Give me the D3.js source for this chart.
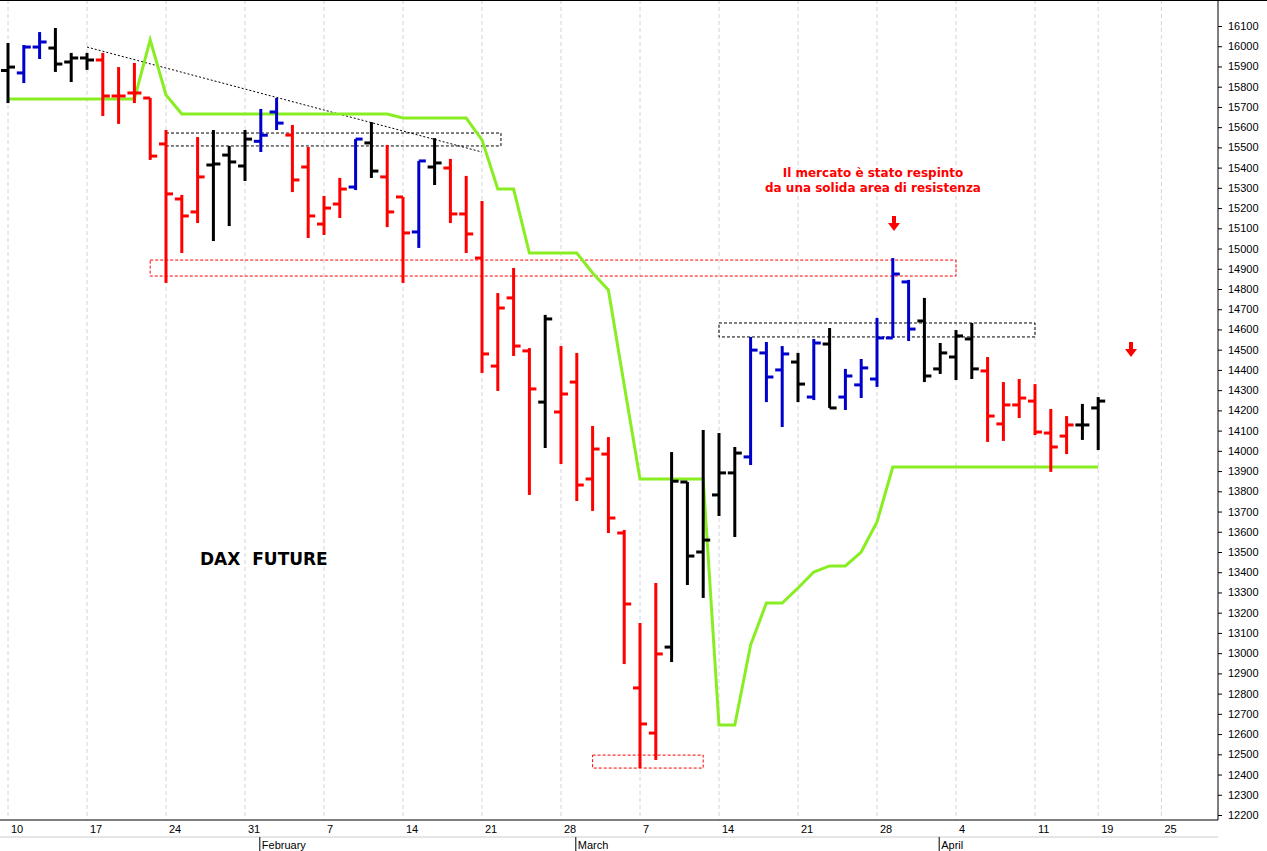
<!DOCTYPE html>
<html><head><meta charset="utf-8">
<script src="https://cdn.jsdelivr.net/npm/d3@7"></script>
<style>body{margin:0;background:#fff}svg{font-family:Arial,"Liberation Sans",sans-serif}</style>
</head><body><svg id="c" width="1267" height="851"></svg>
<script>
const opens =[15880,15868,15996,15991,15922,15942,15932,15754,15769,15744,15517,15245,15181,15413,15462,15408,15530,15675,15561,15403,15121,15220,15304,15522,15354,15255,15082,15403,15398,15171,14953,14419,14756,14494,14241,14192,14340,13861,13984,13594,12828,12605,13030,13846,13500,13782,13891,13970,14484,14400,14439,14266,14528,14266,14326,14355,14558,14835,14642,14405,14464,14553,14395,14133,14227,14246,14088,14073,14128,14212];
const highs =[16016,16006,16070,16090,15967,15967,15967,15897,15917,15744,15586,15265,15551,15586,15507,15586,15690,15744,15611,15502,15260,15349,15541,15625,15512,15255,15433,15546,15443,15359,15235,14780,14904,14508,14672,14518,14484,14123,14068,13609,13149,13347,13994,13846,14103,14088,14019,14563,14538,14518,14484,14553,14607,14405,14454,14657,14953,14845,14756,14533,14597,14632,14464,14340,14355,14330,14207,14172,14232,14266];
const lows  =[15719,15818,15937,15873,15823,15883,15655,15616,15719,15438,14830,14978,15126,15037,15111,15334,15477,15586,15279,15052,15067,15151,15289,15349,15106,14830,15003,15314,15126,14978,14385,14296,14469,13782,14014,13935,13752,13703,13594,12946,12432,12472,12956,13337,13273,13678,13574,13930,14241,14118,14241,14251,14212,14202,14261,14316,14558,14543,14340,14380,14350,14355,14044,14049,14162,14078,13896,13984,14054,14004];
const closes=[15897,15996,16021,15912,15942,15932,15754,15754,15769,15457,15270,15161,15354,15418,15428,15541,15560,15620,15339,15161,15200,15294,15541,15383,15181,15077,15433,15423,15171,15072,14479,14706,14518,14306,14652,14281,13831,14009,13668,13243,12650,12996,13850,13480,13559,13891,13989,14498,14365,14479,14330,14533,14212,14370,14410,14558,14874,14602,14370,14484,14568,14405,14172,14227,14261,14093,14019,14128,14128,14246];
const colors="kbbkkkrrrrrrrkkkbbrrrrbkrrbkrrrrrrkrrrrrrrkkkkkbbbkbkbbbbbkkkkrrrrrrkk";
const greenLine=[15739,15739,15739,15739,15739,15739,15739,15739,15739,16031,15759,15665,15665,15665,15665,15665,15665,15665,15665,15665,15665,15665,15665,15665,15665,15645,15645,15645,15645,15645,15537,15294,15294,14978,14978,14978,14978,14879,14795,14325,13861,13861,13861,13861,13861,12645,12645,13040,13248,13248,13322,13401,13431,13431,13500,13648,13920,13920,13920,13920,13920,13920,13920,13920,13920,13920,13920,13920,13920,13920];
const weekIdx=[0,5,10,15,20,25,30,35,40,45,50,55,60,65,69,73];
const weekLabels=["10","17","24","31","7","14","21","28","7","14","21","28","4","11","19","25"];
const monthIdx=[16,36,59];
const monthLabels=["February","March","April"];
const yTicks=d3.range(12200,16101,100);

const svg=d3.select("#c");
const x=d3.scaleLinear().domain([0,73]).range([8,8+73*15.8]);
const y=d3.scaleLinear().domain([12200,16100]).range([815,26]);
const right=1218,bottom=820;
const col={k:"#000",b:"#0000cc",r:"#ff0000"};

svg.append("g").selectAll("line").data(weekIdx).join("line")
 .attr("x1",d=>x(d)).attr("x2",d=>x(d)).attr("y1",0).attr("y2",bottom)
 .attr("stroke","#d4d4dc").attr("stroke-dasharray","4,3");
svg.append("line").attr("x1",right).attr("x2",right).attr("y1",0).attr("y2",bottom).attr("stroke","#000");
svg.append("line").attr("x1",0).attr("x2",right).attr("y1",bottom).attr("y2",bottom).attr("stroke","#000");
svg.append("line").attr("x1",0).attr("x2",1267).attr("y1",0.5).attr("y2",0.5).attr("stroke","#000");
const ya=svg.append("g").attr("transform",`translate(${right},0)`).call(d3.axisRight(y).tickValues(yTicks).tickSize(4).tickFormat(d3.format("d")));
ya.select(".domain").remove();
ya.selectAll("text").attr("font-size",11).attr("font-family","Arial").attr("x",10);
svg.append("g").selectAll("text").data(weekIdx).join("text")
 .attr("x",d=>x(d)+3).attr("y",bottom+13).attr("font-size",11).text((d,i)=>weekLabels[i]);
svg.append("line").attr("x1",0).attr("x2",right).attr("y1",bottom+17).attr("y2",bottom+17).attr("stroke","#ccc");
svg.append("g").selectAll("line").data(monthIdx).join("line")
 .attr("x1",d=>x(d)-1).attr("x2",d=>x(d)-1).attr("y1",bottom+17).attr("y2",851).attr("stroke","#000");
svg.append("g").selectAll("text").data(monthIdx).join("text")
 .attr("x",d=>x(d)+1).attr("y",bottom+29).attr("font-size",11).text((d,i)=>monthLabels[i]);

function box(i0,i1,p0,p1,c){svg.append("rect").attr("x",x(i0)).attr("y",y(p0)).attr("width",x(i1)-x(i0)).attr("height",y(p1)-y(p0))
 .attr("fill","none").attr("stroke",c).attr("stroke-dasharray","3,2");}
box(10,31.2,15571,15507,"#000");
box(9,60,14943,14864,"#ff0000");
box(37,44,12496,12432,"#ff0000");
box(45,65,14632,14563,"#000");
svg.append("line").attr("x1",x(5)).attr("y1",y(15996)).attr("x2",x(30)).attr("y2",y(15477)).attr("stroke","#000").attr("stroke-dasharray","2,2");

svg.append("path").datum(greenLine).attr("fill","none").attr("stroke","#88ee22").attr("stroke-width",3)
 .attr("d",d3.line().x((d,i)=>x(i)).y(d=>y(d)));

const g=svg.append("g").attr("stroke-width",3);
opens.forEach((o,i)=>{
 const c=col[colors[i]], cx=x(i);
 g.append("line").attr("x1",cx).attr("x2",cx).attr("y1",y(highs[i])).attr("y2",y(lows[i])).attr("stroke",c);
 g.append("line").attr("x1",cx-7).attr("x2",cx).attr("y1",y(o)).attr("y2",y(o)).attr("stroke",c);
 g.append("line").attr("x1",cx).attr("x2",cx+7).attr("y1",y(closes[i])).attr("y2",y(closes[i])).attr("stroke",c);
});

const ann=svg.append("g").attr("font-family","DejaVu Sans").attr("font-weight","bold").attr("font-size",12).attr("fill","#ff0000").attr("text-anchor","middle");
ann.append("text").attr("x",873).attr("y",177).text("Il mercato è stato respinto");
ann.append("text").attr("x",873).attr("y",192).text("da una solida area di resistenza");
svg.append("text").attr("x",200).attr("y",565).attr("fill","#000").attr("font-family","DejaVu Sans").attr("font-size",17).attr("font-weight","bold").attr("xml:space","preserve").text("DAX  FUTURE");
function arrow(cx,cy){svg.append("path").attr("d",`M${cx-2},${cy-8}h4v7h4l-6,8l-6,-8h4z`).attr("fill","#ff0000");}
arrow(894,224);arrow(1131,350);
</script></body></html>
